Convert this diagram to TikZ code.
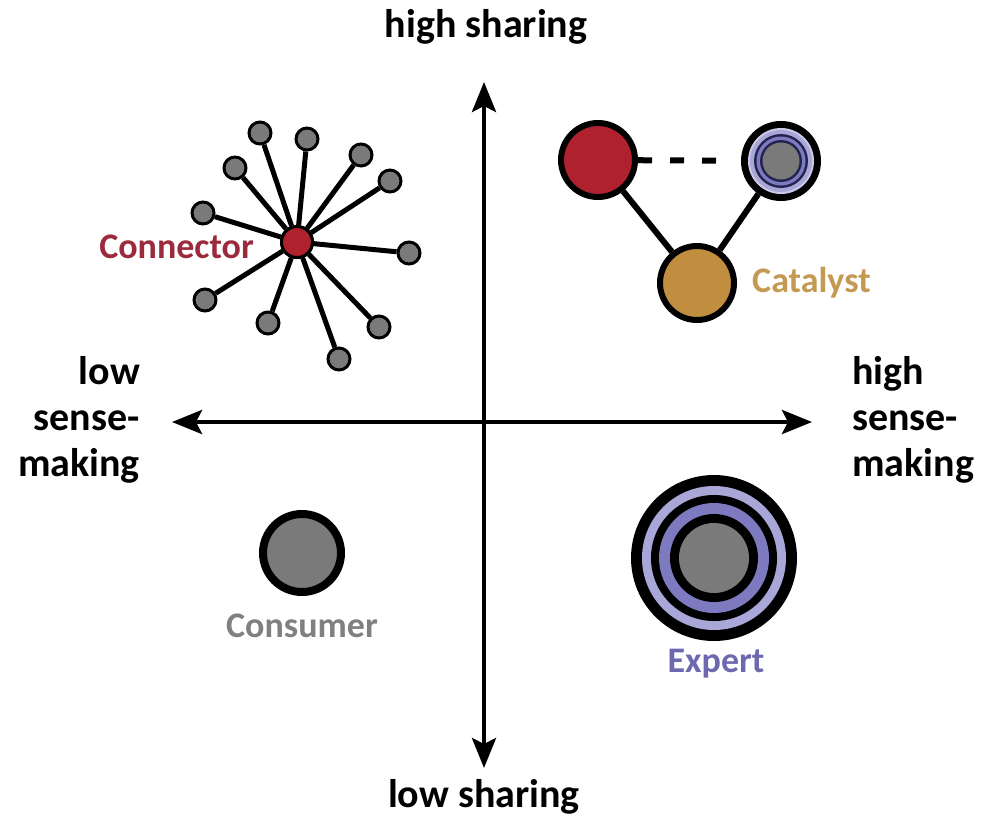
\documentclass[tikz,border=0pt]{standalone}
\usepackage{fontspec}
\setmainfont{Carlito}
\usetikzlibrary{arrows.meta}
\definecolor{grayfill}{HTML}{7A7A7A}
\definecolor{redfill}{HTML}{B0212E}
\definecolor{goldfill}{HTML}{C08E3E}
\definecolor{lavlight}{HTML}{A9A6D8}
\definecolor{lavmid}{HTML}{7D7ABF}
\definecolor{navy}{HTML}{23234F}
\definecolor{conntext}{HTML}{9A2A3C}
\definecolor{cattext}{HTML}{C49A52}
\definecolor{constext}{HTML}{808080}
\definecolor{exptext}{HTML}{6C69B0}
\tikzset{
  axis/.style={line width=4.5pt, {Stealth[length=30pt,width=24pt,inset=6pt]}-{Stealth[length=30pt,width=24pt,inset=6pt]}},
  axlabel/.style={font=\bfseries\fontsize{40}{46}\selectfont, inner sep=0pt},
  rolelabel/.style={font=\bfseries\fontsize{36}{42}\selectfont, inner sep=0pt},
  sat/.style={circle, draw=black, line width=3pt, fill=grayfill, minimum size=22pt, inner sep=0pt},
  hub/.style={circle, draw=black, line width=3pt, fill=redfill, minimum size=31pt, inner sep=0pt},
  spoke/.style={line width=5pt},
  bigball/.style={circle, draw=black, line width=6pt, minimum size=74pt, inner sep=0pt},
  link/.style={line width=6pt}
}
\begin{document}
\begin{tikzpicture}[x=1pt,y=-1pt]
\useasboundingbox (0,0) rectangle (984,830);
% axes
\coordinate (top) at (484,82);
\coordinate (bot) at (484,768);
\coordinate (left) at (172,422);
\coordinate (right) at (812,422);
\draw[axis] (top) -- (bot);
\draw[axis] (left) -- (right);
% axis labels
\node[axlabel, anchor=base] (hs) at (486,37) {high sharing};
\node[axlabel, anchor=base] (ls) at (484,807) {low sharing};
\node[axlabel, anchor=east, align=right] (lsm) at (140,420) {low\\sense-\\making};
\node[axlabel, anchor=west, align=left] (hsm) at (852,420) {high\\sense-\\making};
% connector
\node[hub] (c0) at (297,242) {};
\foreach \i/\x/\y in {1/260/133, 2/307/139, 3/361/155, 4/390/181, 5/235/168, 6/203/213, 7/409/253, 8/205/300, 9/268/323, 10/379/327, 11/339/359}{
  \node[sat] (s\i) at (\x,\y) {};
  \draw[spoke] (c0) -- (s\i);
}
\node[hub] at (c0) {};
\node[rolelabel, text=conntext, anchor=east] (cl) at (254,247) {Connector};
% catalyst
\node[bigball, fill=redfill] (cr) at (598,160) {};
\node[bigball, fill=black, minimum size=74pt] (ce) at (781,161) {};
\fill[lavlight!60!white] (ce.center) circle (33);
\fill[lavlight] (ce.center) circle (31);
\fill[navy] (ce.center) circle (27);
\fill[lavmid] (ce.center) circle (24.5);
\fill[navy] (ce.center) circle (21);
\fill[grayfill] (ce.center) circle (18.5);
\node[bigball, fill=goldfill] (cg) at (697,283) {};
\draw[link] (cr) -- (cg);
\draw[link] (ce) -- (cg);
\draw[line width=6pt, dash pattern=on 14pt off 18pt, shorten >=23pt] (cr) -- (ce);
\node[rolelabel, text=cattext, anchor=west] (catl) at (752,283) {Catalyst};
% consumer
\node[circle, draw=black, line width=8pt, fill=grayfill, minimum size=78pt, inner sep=0pt] (cons) at (302,553) {};
\node[rolelabel, text=constext] (consl) at (302,626) {Consumer};
% expert
\node[circle, fill=black, minimum size=166pt, inner sep=0pt] (exp) at (714,558) {};
\fill[lavlight] (exp.center) circle (72);
\fill[black] (exp.center) circle (63);
\fill[lavmid] (exp.center) circle (55);
\fill[black] (exp.center) circle (44);
\fill[grayfill] (exp.center) circle (35);
\node[rolelabel, text=exptext] (expl) at (716,664) {Expert};
\end{tikzpicture}
\end{document}
